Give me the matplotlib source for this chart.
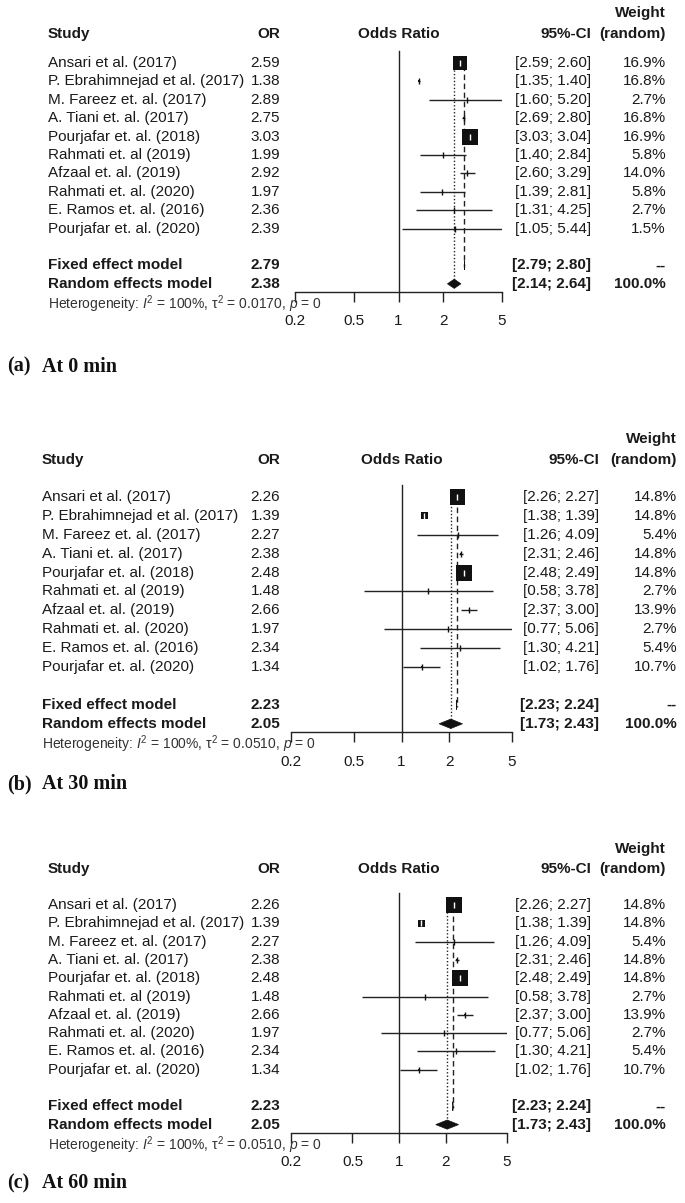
import matplotlib
matplotlib.use("Agg")
import matplotlib.pyplot as plt
from matplotlib.transforms import blended_transform_factory
import numpy as np

plt.rcParams['font.family'] = ['Liberation Sans', 'DejaVu Sans']
plt.rcParams['mathtext.fontset'] = 'custom'
plt.rcParams['mathtext.rm'] = 'Liberation Sans'
plt.rcParams['mathtext.it'] = 'Liberation Sans:italic'
plt.rcParams['mathtext.bf'] = 'Liberation Sans:bold'

# данные
studies = ["Ansari et al. (2017)", "P. Ebrahimnejad et al. (2017)", "M. Fareez et. al. (2017)",
           "A. Tiani et. al. (2017)", "Pourjafar et. al. (2018)", "Rahmati et. al (2019)",
           "Afzaal et. al. (2019)", "Rahmati et. al. (2020)", "E. Ramos et. al. (2016)",
           "Pourjafar et. al. (2020)"]

# (a) 0 min
or_a = [2.59, 1.38, 2.89, 2.75, 3.03, 1.99, 2.92, 1.97, 2.36, 2.39]
lo_a = [2.59, 1.35, 1.60, 2.69, 3.03, 1.40, 2.60, 1.39, 1.31, 1.05]
hi_a = [2.60, 1.40, 5.20, 2.80, 3.04, 2.84, 3.29, 2.81, 4.25, 5.44]
w_a = [16.9, 16.8, 2.7, 16.8, 16.9, 5.8, 14.0, 5.8, 2.7, 1.5]
fw_a = [42, 0.9, 0.03, 0.9, 55, 0.05, 0.4, 0.05, 0.03, 0.02]  # вес fixed (размер квадрата), на глаз
fixed_a = [2.79, 2.79, 2.80]
random_a = [2.38, 2.14, 2.64]
tau_a = "0.0170"

# (b) 30 min и (c) 60 min - одинаковые данные
or_b = [2.26, 1.39, 2.27, 2.38, 2.48, 1.48, 2.66, 1.97, 2.34, 1.34]
lo_b = [2.26, 1.38, 1.26, 2.31, 2.48, 0.58, 2.37, 0.77, 1.30, 1.02]
hi_b = [2.27, 1.39, 4.09, 2.46, 2.49, 3.78, 3.00, 5.06, 4.21, 1.76]
w_b = [14.8, 14.8, 5.4, 14.8, 14.8, 2.7, 13.9, 2.7, 5.4, 10.7]
fw_b = [44, 9, 0.03, 0.5, 45, 0.02, 0.2, 0.02, 0.03, 0.3]
fixed_b = [2.23, 2.23, 2.24]
random_b = [2.05, 1.73, 2.43]
tau_b = "0.0510"

ticks = [0.2, 0.5, 1, 2, 5]
tick_labels = ["0.2", "0.5", "1", "2", "5"]

W, H = 685, 1203
fig = plt.figure(figsize=(W / 100, H / 100), dpi=100)

txt = '#1a1a1a'
lc = '#222222'
fs = 11


def forest(y0, sp, x02, x5, xs, xor, xci, xw, cap_row, hrow, letter, title,
           est, lo, hi, w, fw, fixed, random, tau):
    top_row, axis_row = -0.65, 12.45
    top = y0 + top_row * sp
    bot = y0 + axis_row * sp
    ax = fig.add_axes([x02 / W, 1 - bot / H, (x5 - x02) / W, (bot - top) / H])
    ax.set_xscale('log')
    ax.set_xlim(0.2, 5)
    ax.set_ylim(axis_row, top_row)
    for s in ['top', 'left', 'right']:
        ax.spines[s].set_visible(False)
    ax.spines['bottom'].set_color(lc)
    ax.spines['bottom'].set_linewidth(1)
    ax.set_xticks(ticks)
    ax.set_xticklabels(tick_labels)
    ax.minorticks_off()
    ax.tick_params(axis='x', direction='out', length=7, width=1, color=lc,
                   pad=9, labelsize=fs, labelcolor=txt)
    ax.set_yticks([])
    ax.patch.set_alpha(0)

    tr = blended_transform_factory(fig.transFigure, ax.transData)
    rows = np.arange(len(est))

    # вертикальные линии
    ax.plot([1, 1], [top_row, axis_row], color=lc, lw=1, clip_on=False)
    ax.plot([fixed[0]] * 2, [-0.4, 11.1], color=lc, lw=1, ls=(0, (4, 2.5)))
    ax.plot([random[0]] * 2, [-0.4, 12], color=lc, lw=1, ls=(0, (1, 1.5)))

    # доверительные интервалы и квадраты
    ax.hlines(rows, lo, hi, color=lc, lw=1, zorder=3)
    fw = np.array(fw)
    side = 16 * np.sqrt(fw / fw.max()) * 0.72
    ax.scatter(est, rows, s=side ** 2, marker='s', color='#111111', zorder=4, linewidths=0)
    tick_col = ['white' if sd > 5 else '#111111' for sd in side]
    for e, r, c in zip(est, rows, tick_col):
        ax.plot([e], [r], marker='|', ms=4, mew=1, color=c, zorder=5)

    # ромбы
    for row, (m, l, h) in zip([11, 12], [fixed, random]):
        ax.fill([l, m, h, m], [row, row - 0.25, row, row + 0.25], color='#111111', zorder=4, lw=0.5,
                edgecolor='#111111')

    # заголовки
    hd = dict(fontsize=fs, fontweight='bold', color=txt, va='center', transform=tr)
    ax.text(xs / W, hrow, "Study", ha='left', **hd)
    ax.text(xor / W, hrow, "OR", ha='right', **hd)
    ax.text(1, hrow, "Odds Ratio", ha='center', fontsize=fs, fontweight='bold', color=txt,
            va='center', transform=ax.transData, clip_on=False)
    ax.text(xci / W, hrow, "95%-CI", ha='right', **hd)
    ax.text(xw / W, hrow, "(random)", ha='right', **hd)
    ax.text(xw / W, hrow - 1.1, "Weight", ha='right', **hd)

    rt = dict(fontsize=fs, color=txt, va='center', transform=tr)
    for r in rows:
        ax.text(xs / W, r, studies[r], ha='left', **rt)
        ax.text(xor / W, r, f"{est[r]:.2f}", ha='right', **rt)
        ax.text(xci / W, r, f"[{lo[r]:.2f}; {hi[r]:.2f}]", ha='right', **rt)
        ax.text(xw / W, r, f"{w[r]:.1f}%", ha='right', **rt)

    for row, name, vals, wt in [(11, "Fixed effect model", fixed, "--"),
                                (12, "Random effects model", random, "100.0%")]:
        ax.text(xs / W, row, name, ha='left', **hd)
        ax.text(xor / W, row, f"{vals[0]:.2f}", ha='right', **hd)
        ax.text(xci / W, row, f"[{vals[1]:.2f}; {vals[2]:.2f}]", ha='right', **hd)
        ax.text(xw / W, row, wt, ha='right', **hd)

    ax.text(xs / W, 13.1, r"Heterogeneity: $I^2$ = 100%, $\mathrm{τ}^2$ = " + tau + r", $p$ = 0",
            ha='left', va='center', fontsize=10, color='#333333', transform=tr)

    ax.text(7 / W, cap_row, letter, ha='left', va='center', fontsize=14.5, fontweight='bold',
            family='Liberation Serif', color='#111111', transform=tr)
    ax.text(42 / W, cap_row, title, ha='left', va='center', fontsize=14.5, fontweight='bold',
            family='Liberation Serif', color='#111111', transform=tr)
    return ax


forest(63, 18.4, 295, 502, 48, 280, 591, 666, 16.5, -1.6, "(a)", "At 0 min",
       or_a, lo_a, hi_a, w_a, fw_a, fixed_a, random_a, tau_a)
forest(497, 18.9, 291, 512, 42, 280, 599, 677, 15.2, -1.95, "(b)", "At 30 min",
       or_b, lo_b, hi_b, w_b, fw_b, fixed_b, random_b, tau_b)
forest(905, 18.3, 291, 507, 48, 280, 591, 666, 15.2, -1.95, "(c)", "At 60 min",
       or_b, lo_b, hi_b, w_b, fw_b, fixed_b, random_b, tau_b)

fig.savefig("out.png", dpi=100, facecolor='white')
